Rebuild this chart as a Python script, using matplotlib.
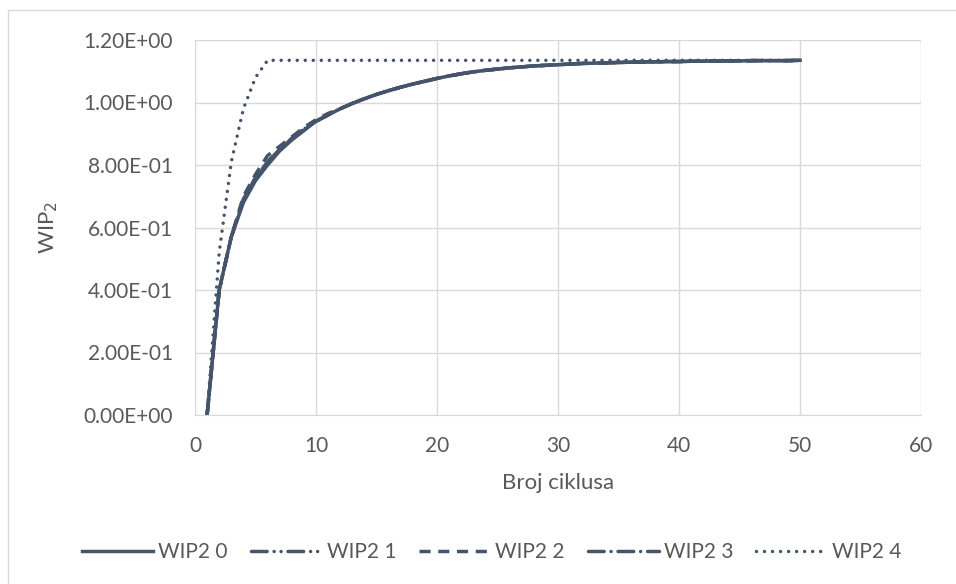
import matplotlib.pyplot as plt
from matplotlib.patches import Rectangle
from matplotlib.ticker import FuncFormatter

plt.rcParams['font.family'] = ['Lato', 'DejaVu Sans']

# broj ciklusa 1..50
ciklusi = list(range(1, 51))

wip2_0 = [0.0, 0.40, 0.57, 0.68, 0.75, 0.80, 0.845, 0.88, 0.91, 0.94,
          0.96, 0.98, 0.997, 1.012, 1.026, 1.038, 1.049, 1.059, 1.068, 1.077,
          1.085, 1.092, 1.098, 1.103, 1.107, 1.111, 1.114, 1.117, 1.119, 1.121,
          1.123, 1.125, 1.126, 1.127, 1.128, 1.129, 1.130, 1.130, 1.131, 1.131,
          1.132, 1.132, 1.133, 1.133, 1.133, 1.134, 1.134, 1.134, 1.134, 1.135]
wip2_1 = [0.0, 0.40, 0.57, 0.69, 0.76, 0.81, 0.85, 0.885, 0.915, 0.94,
          0.96, 0.98, 0.997, 1.012, 1.026, 1.038, 1.049, 1.059, 1.068, 1.077,
          1.085, 1.092, 1.098, 1.103, 1.107, 1.111, 1.114, 1.117, 1.119, 1.121,
          1.123, 1.125, 1.126, 1.127, 1.128, 1.129, 1.130, 1.130, 1.131, 1.131,
          1.132, 1.132, 1.133, 1.133, 1.133, 1.134, 1.134, 1.134, 1.134, 1.135]
wip2_2 = [0.0, 0.40, 0.57, 0.70, 0.77, 0.83, 0.86, 0.89, 0.92, 0.945,
          0.965, 0.98, 0.997, 1.012, 1.026, 1.038, 1.049, 1.059, 1.068, 1.077,
          1.085, 1.092, 1.098, 1.103, 1.107, 1.111, 1.114, 1.117, 1.119, 1.121,
          1.123, 1.125, 1.126, 1.127, 1.128, 1.129, 1.130, 1.130, 1.131, 1.131,
          1.132, 1.132, 1.133, 1.133, 1.133, 1.134, 1.134, 1.134, 1.134, 1.135]
wip2_3 = [0.0, 0.40, 0.57, 0.69, 0.76, 0.81, 0.85, 0.885, 0.915, 0.94,
          0.96, 0.98, 0.997, 1.012, 1.026, 1.038, 1.049, 1.059, 1.068, 1.077,
          1.085, 1.092, 1.098, 1.103, 1.107, 1.111, 1.114, 1.117, 1.119, 1.121,
          1.123, 1.125, 1.126, 1.127, 1.128, 1.129, 1.130, 1.130, 1.131, 1.131,
          1.132, 1.132, 1.133, 1.133, 1.133, 1.134, 1.134, 1.134, 1.134, 1.135]
wip2_4 = [0.0, 0.52, 0.81, 0.98, 1.08] + [1.135] * 45

serije = [("WIP2 0", wip2_0, "-"),
          ("WIP2 1", wip2_1, (0, (4.5, 2.0, 0.01, 2.0, 0.01, 2.0))),
          ("WIP2 2", wip2_2, (0, (3.2, 2.2))),
          ("WIP2 3", wip2_3, (0, (4.5, 2.0, 0.01, 2.0))),
          ("WIP2 4", wip2_4, (0, (0.01, 2.3)))]

boja = "#44546A"
siva = "#595959"

fig = plt.figure(figsize=(9.56, 5.84), dpi=100)
fig.patches.append(Rectangle((8 / 956, -0.1), 1.1, 1 - 10 / 584 + 0.1,
                             transform=fig.transFigure, fill=False,
                             edgecolor="#D9D9D9", linewidth=1))
ax = fig.add_axes([195 / 956, 1 - 415 / 584, 726 / 956, 375 / 584])

for ime, y, stil in serije:
    cap = "butt" if ime in ("WIP2 0", "WIP2 2") else "round"
    ax.plot(ciklusi, y, color=boja, linestyle=stil, linewidth=2.5,
            label=ime, dash_capstyle=cap)

ax.set_xlim(0, 60)
ax.set_ylim(0, 1.2)
ax.set_xticks(range(0, 61, 10))
ax.set_yticks([0, 0.2, 0.4, 0.6, 0.8, 1.0, 1.2])
ax.yaxis.set_major_formatter(FuncFormatter(lambda v, p: f"{v:.2E}"))
ax.grid(True, color="#D9D9D9", linewidth=1)
ax.set_axisbelow(True)
for s in ax.spines.values():
    s.set_visible(False)
ax.spines["left"].set_visible(True)
ax.spines["bottom"].set_visible(True)
ax.spines["left"].set_color("#D9D9D9")
ax.spines["bottom"].set_color("#D9D9D9")
ax.tick_params(length=0, labelsize=15, colors=siva)
ax.tick_params(axis="x", pad=15)
ax.tick_params(axis="y", pad=16)

ax.set_xlabel("Broj ciklusa", fontsize=16, color=siva)
ax.xaxis.set_label_coords(0.5, -0.155)
ax.set_ylabel("WIP$_2$", fontsize=16, color=siva)
ax.yaxis.set_label_coords(-0.186, 0.5)

fig.legend(loc="center", bbox_to_anchor=(492 / 956, 1 - 552 / 584), ncol=5,
           frameon=False, fontsize=15, labelcolor=siva, handlelength=3.4,
           handletextpad=0.25, columnspacing=1.1)

fig.savefig("out.png", dpi=100)
